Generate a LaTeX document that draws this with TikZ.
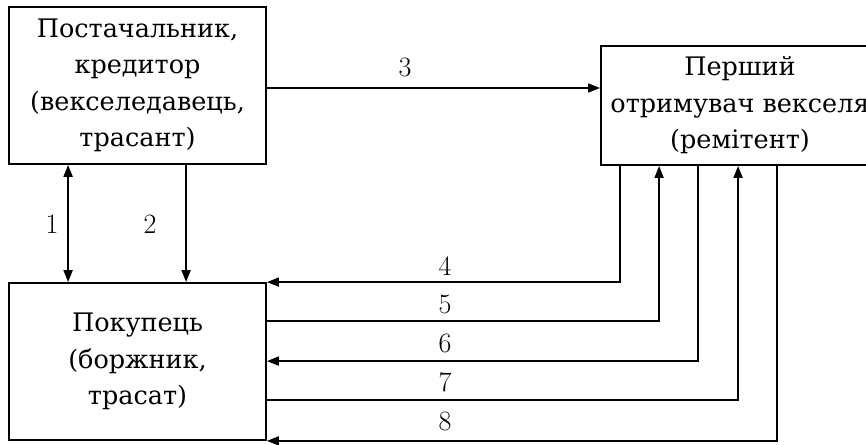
\documentclass[tikz,border=0pt]{standalone}
\usepackage{fontspec}
\setmainfont{DejaVu Serif}
\usetikzlibrary{arrows.meta}
\begin{document}
\begin{tikzpicture}[x=1pt,y=1pt,
  box/.style={draw, line width=1.8pt, inner sep=0pt, align=center,
    font=\fontsize{25.5}{36.5}\selectfont},
  arr/.style={line width=1.7pt, -{Triangle[length=12pt,width=9pt]}},
  darr/.style={line width=2pt, {Triangle[length=12pt,width=9pt]}-{Triangle[length=12pt,width=9pt]}},
  num/.style={font=\fontfamily{lmr}\fontsize{28}{30}\selectfont, inner sep=0pt}]
\useasboundingbox (0,0) rectangle (866,-444);
\clip (0,0) rectangle (866,-444);
\node[box, minimum width=257pt, minimum height=157pt] (A) at (137.5,-85.5)
  {Постачальник,\\кредитор\\(векселедавець,\\трасант)};
\node[box, minimum width=278pt, minimum height=119pt] (B) at (740,-105.5)
  {Перший\\отримувач векселя\\(ремітент)};
\node[box, minimum width=257pt, minimum height=157pt] (C) at (137.5,-361.5)
  {Покупець\\(боржник,\\трасат)};
% 3
\draw[arr] ([yshift=-2.5pt]A.east) coordinate (p3) -- (p3 -| B.west);
\node[num] (n3) at (405,-67) {3};
% 1, 2
\draw[darr] ([xshift=60pt]A.south west) -- ([xshift=60pt]C.north west);
\draw[arr] ([xshift=178pt]A.south west) -- ([xshift=178pt]C.north west);
\node[num] (n1) at (52,-224) {1};
\node[num] (n2) at (150,-224) {2};
% 4
\draw[arr] ([xshift=20pt]B.south west) |- (C.north east);
% 5
\draw[arr] ([yshift=-39pt]C.north east) -| ([xshift=59pt]B.south west);
% 6
\draw[arr] ([xshift=98pt]B.south west) |- ([yshift=-79pt]C.north east);
% 7
\draw[arr] ([yshift=-118pt]C.north east) -| ([xshift=138pt]B.south west);
% 8
\draw[arr] ([xshift=177pt]B.south west) |- (C.south east);
\node[num] (n4) at (445,-266) {4};
\node[num] (n5) at (445,-304) {5};
\node[num] (n6) at (445,-343) {6};
\node[num] (n7) at (445,-382) {7};
\node[num] (n8) at (445,-421) {8};
\end{tikzpicture}
\end{document}
